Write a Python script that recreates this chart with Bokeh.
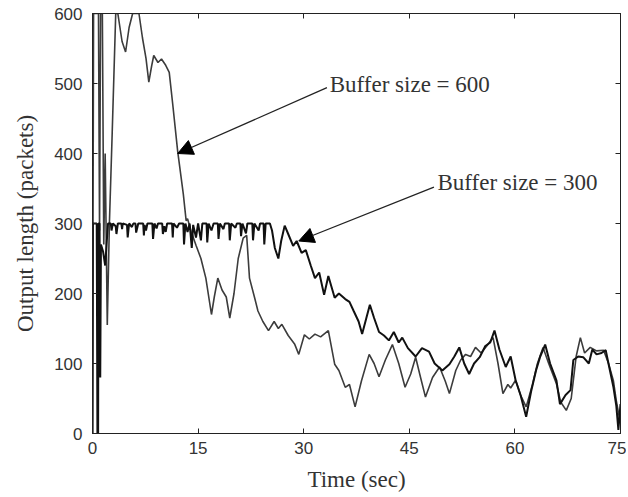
from bokeh.plotting import figure
from bokeh.models import Range1d, LinearAxis, Arrow, NormalHead, Label, FixedTicker
from bokeh.embed import file_html
from bokeh.resources import INLINE

# ---- data ----
t_buf300 = [0, 0.05, 0.6, 0.7, 0.8, 0.85, 1.0, 1.1, 1.2, 1.5, 1.8, 2.0, 2.2,
            2.6, 2.7, 2.9, 3.3, 3.4, 3.6, 4.1, 4.2, 4.3, 4.9, 5.0, 5.2, 5.6, 5.8,
            6.1, 6.2, 6.5, 7.2, 7.3, 7.4, 7.6, 7.8, 8.5, 8.6, 8.8, 9.1, 9.3,
            9.9, 10.0, 10.2, 10.4, 10.6, 11.3, 11.4, 11.5, 12.0, 12.3, 12.9, 13.0,
            13.2, 13.5, 13.8, 14.1, 14.3, 14.7, 15.0, 15.4, 15.6, 16.2, 16.3, 16.5,
            16.9, 17.2, 17.8, 17.9, 18.1, 18.6, 18.8, 19.4, 19.5, 19.7, 20.3, 20.5,
            21.0, 21.1, 21.3, 21.8, 22.0, 22.7, 22.8, 23.0, 23.6, 23.8, 24.3, 24.4,
            24.6,
            25.2, 25.5, 25.9, 26.4, 26.8, 27.3, 27.8, 28.5, 29.0, 29.7, 30.3, 31.0,
            31.6, 32.2, 32.9, 33.5, 34.4, 35.0, 35.9, 36.5, 37.1, 37.8, 38.3, 38.9,
            39.4, 40.0, 40.7, 41.4, 42.1, 42.8, 43.5, 44.0, 44.8, 45.9, 46.8, 47.8,
            48.6, 49.7, 50.7, 51.4, 52.1, 52.8, 53.5, 54.2, 55.0, 55.8, 56.5, 57.1,
            57.8, 58.7, 59.4, 60.1, 60.8, 61.6, 62.3, 63.0, 63.6, 64.3, 65.0, 65.9,
            66.4, 67.2, 67.9, 68.3, 69.0, 69.7, 70.5, 71.0, 71.6, 72.3, 72.9, 73.5,
            74.0, 74.4, 74.7, 75.0]
q_buf300 = [0, 300, 300, 0, 0, 300, 300, 80, 270, 260, 240, 270, 300,
            300, 290, 300, 296, 285, 300, 300, 292, 300, 298, 280, 300, 295, 300,
            300, 287, 300, 300, 283, 298, 290, 300, 300, 278, 300, 293, 300,
            300, 285, 296, 288, 300, 300, 280, 300, 294, 300, 300, 270,
            300, 288, 300, 265, 298, 280, 300, 276, 300, 300, 273, 300,
            290, 300, 300, 278, 300, 292, 300, 300, 276, 300, 294, 300,
            300, 282, 300, 286, 300, 300, 276, 300, 290, 300, 300, 270,
            300,
            300, 290, 265, 250, 275, 297, 285, 268, 275, 258, 262, 240,
            222, 230, 198, 225, 194, 200, 192, 188, 175, 160, 142, 165,
            184, 165, 145, 140, 133, 145, 130, 137, 122, 110, 122, 117,
            100, 90, 99, 110, 123, 100, 85, 100, 109, 125, 130, 147,
            120, 95, 110, 76, 55, 24, 60, 90, 110, 127, 100, 76,
            42, 55, 62, 105, 110, 109, 100, 120, 113, 115, 119, 90,
            66, 40, 5, 42]

t_buf600 = [0, 0.15, 0.85, 1.0, 1.15, 1.4, 1.6, 1.8, 2.1, 2.4, 2.8, 3.3, 3.6,
            4.2, 4.7, 5.2, 5.7, 6.6, 7.1, 7.6, 8.0, 8.4, 8.7, 9.3, 9.8, 10.4, 10.9,
            11.4, 12.1, 12.9, 13.3, 13.5, 14.0, 14.7, 15.4, 16.1, 16.9, 17.3, 17.8,
            18.4, 19.0, 19.5, 20.1, 20.7, 21.4, 21.9, 22.3, 23.0, 23.5, 24.2, 25.0,
            25.8, 26.4, 26.9, 27.8, 28.7, 29.3, 30.1, 30.8, 31.6, 32.4, 33.5, 34.4,
            35.0, 35.9, 36.5, 37.3, 38.2, 39.3, 40.0, 40.7, 41.6, 42.6, 43.5, 44.4,
            45.2, 45.9, 46.6, 47.3, 48.3, 49.3, 50.1, 50.7, 51.6, 52.3, 53.0, 53.7,
            54.4, 55.2, 56.0, 56.9, 57.6, 58.3, 59.0, 59.4, 60.1, 60.8, 61.6, 62.5,
            63.2, 64.0, 64.8, 65.9, 66.5, 67.3, 68.0, 68.7, 69.3, 69.9, 70.7, 71.6,
            72.6, 73.3, 74.0, 74.4, 75.0]
q_buf600 = [0, 600, 600, 290, 600, 600, 270, 400, 155, 300, 430, 600, 600,
            560, 545, 580, 600, 600, 565, 536, 502, 525, 540, 530, 535, 526, 516,
            470, 403, 342, 304, 307, 289, 269, 250, 222, 170, 195, 222,
            205, 195, 165, 200, 250, 279, 283, 222, 195, 175, 160, 147,
            160, 150, 156, 140, 128, 113, 141, 135, 142, 138, 147, 99,
            90, 66, 70, 38, 75, 113, 100, 81, 105, 127, 100, 66,
            85, 109, 80, 52, 80, 95, 75, 57, 90, 105, 113, 110,
            123, 115, 125, 137, 100, 57, 70, 65, 76, 55, 38, 70,
            100, 123, 100, 71, 45, 33, 50, 110, 137, 115, 123, 118,
            119, 100, 75, 47, 14]

x_ticks = [0, 15, 30, 45, 60, 75]
y_ticks = [0, 100, 200, 300, 400, 500, 600]

# annotation anchors (data units)
ann600_text = (33.7, 498, "Buffer size = 600")
ann600_arrow = (33.3, 494, 12.1, 400)
ann300_text = (49.0, 359, "Buffer size = 300")
ann300_arrow = (48.5, 352, 29.3, 275)

p = figure(width=626, height=494, output_backend="svg", toolbar_location=None,
           x_range=Range1d(0, 75), y_range=Range1d(0, 600),
           min_border_left=92, min_border_right=6, min_border_top=13,
           min_border_bottom=57)
p.background_fill_color = "white"
p.border_fill_color = "white"
p.outline_line_color = "#222222"
p.grid.visible = False

p.line(t_buf600, q_buf600, line_color="#3c3c3c", line_width=1.6)
p.line(t_buf300, q_buf300, line_color="#111111", line_width=2.0)


def style_axis(ax, ticks, labels=True):
    ax.ticker = FixedTicker(ticks=ticks)
    ax.major_tick_in = 5
    ax.major_tick_out = 0
    ax.minor_tick_in = 0
    ax.minor_tick_out = 0
    ax.axis_line_color = "#222222"
    ax.major_tick_line_color = "#222222"
    ax.major_label_text_font = "Liberation Sans"
    ax.major_label_text_font_size = "17px"
    ax.major_label_text_color = "#333333"
    ax.axis_label_text_font = "Liberation Serif"
    ax.axis_label_text_font_size = "23px"
    ax.axis_label_text_font_style = "normal"
    ax.axis_label_text_color = "#333333"
    if not labels:
        ax.major_label_overrides = {t: "" for t in ticks}
        ax.major_label_standoff = 0


xa = p.xaxis[0]
style_axis(xa, x_ticks)
xa.axis_label = "Time (sec)"
xa.major_label_standoff = 8
xa.axis_label_standoff = 10

ya = p.yaxis[0]
style_axis(ya, y_ticks)
ya.axis_label = "Output length (packets)"
ya.major_label_standoff = 10
ya.axis_label_standoff = 13

top = LinearAxis()
style_axis(top, x_ticks, labels=False)
p.add_layout(top, "above")
right = LinearAxis()
style_axis(right, y_ticks, labels=False)
p.add_layout(right, "right")

for (tx, ty, txt), (xs, ys, xe, ye) in [(ann600_text, ann600_arrow), (ann300_text, ann300_arrow)]:
    p.add_layout(Arrow(end=NormalHead(size=15, fill_color="black", line_color="black"),
                       x_start=xs, y_start=ys, x_end=xe, y_end=ye,
                       line_color="#222222", line_width=1.3))
    p.add_layout(Label(x=tx, y=ty, text=txt, text_font="Liberation Serif",
                       text_font_size="23px", text_color="#333333",
                       text_baseline="middle", text_align="left"))

open("out.html", "w").write(file_html(p, INLINE))
